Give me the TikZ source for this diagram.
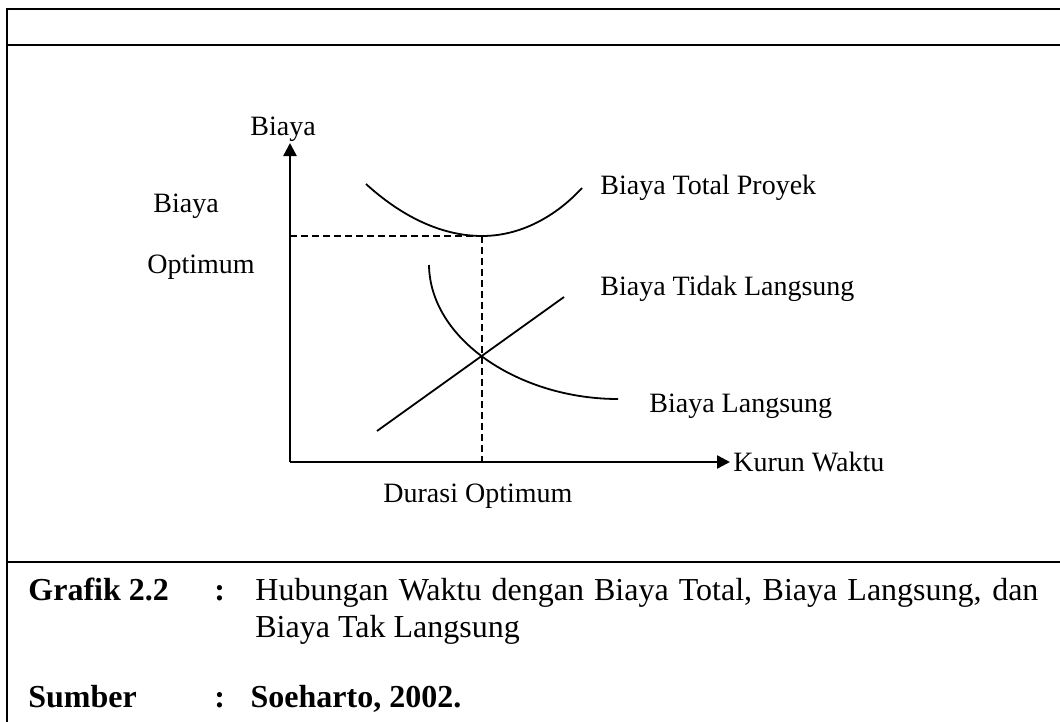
\documentclass[tikz,border=0pt]{standalone}
\usepackage{fontspec}
\setmainfont{Liberation Serif}
\usetikzlibrary{arrows.meta}
\begin{document}
\begin{tikzpicture}[x=0.5pt, y=-0.5pt,
	frameLine/.style={line width=1pt},
	axisLine/.style={line width=1.2pt, -{Triangle[width=6.5pt,length=6.5pt]}},
	costCurve/.style={line width=0.9pt},
	guideLine/.style={line width=0.9pt, dash pattern=on 3.5pt off 2pt},
	graphText/.style={inner sep=0pt, anchor=base west, font=\fontsize{14}{17}\selectfont},
	captionText/.style={inner sep=0pt, anchor=base west, font=\fontsize{16}{19}\selectfont},
	captionBold/.style={captionText, font=\fontsize{16}{19}\selectfont\bfseries}]
	\useasboundingbox (0,0) rectangle (1060,722);

		% frame of the table
		\draw[frameLine] (7,722) -- (7,9) -- (1060,9);
		\draw[frameLine] (7,45.5) -- (1060,45.5);
		\draw[frameLine] (7,562) -- (1060,562);

		\coordinate (origin) at (290,462);
		\coordinate (yTip) at (290,143);
		\coordinate (xTip) at (730,462);

		\coordinate (optCost) at (290,236);
		\coordinate (optPoint) at (482,236);
		\coordinate (optTime) at (482,462);

		\coordinate (totalStart) at (366,184);
		\coordinate (totalEnd) at (582,188);
		\coordinate (directStart) at (429,265);
		\coordinate (directEnd) at (618,399);
		\coordinate (indirectStart) at (377,431);
		\coordinate (indirectEnd) at (564,297);

		\node[graphText](costAxisLabel) at (250,135){Biaya};
		\node[graphText](timeAxisLabel) at (733,471){Kurun Waktu};
		\node[graphText](optCostLabel1) at (153,213){Biaya};
		\node[graphText](optCostLabel2) at (147,273){Optimum};
		\node[graphText](optTimeLabel) at (383,502){Durasi Optimum};
		\node[graphText](totalLabel) at (600,194){Biaya Total Proyek};
		\node[graphText](indirectLabel) at (600,295){Biaya Tidak Langsung};
		\node[graphText](directLabel) at (649,412){Biaya Langsung};

		\draw [axisLine] (origin) -- (yTip);
		\draw [axisLine] (origin) -- (xTip);

		\draw [guideLine] (optCost) -- (optPoint);
		\draw [guideLine] (optPoint) -- (optTime);

		\draw [costCurve] (totalStart) .. controls (400,215) and (440,236) .. (optPoint) .. controls (525,236) and (560,212) .. (totalEnd);
		\draw [costCurve] (directStart) .. controls (430,340) and (520,399) .. (directEnd);
		\draw [costCurve] (indirectStart) -- (indirectEnd);

		% caption
		\node[captionBold](grafikLabel) at (28,600){Grafik 2.2};
		\node[captionBold](grafikColon) at (214,600){:};
		\node[captionText](grafikLine1) at (255,600){\makebox[391.5pt][s]{Hubungan Waktu dengan Biaya Total, Biaya Langsung, dan}};
		\node[captionText](grafikLine2) at (255,637){Biaya Tak Langsung};
		\node[captionBold](sumberLabel) at (28,707){Sumber};
		\node[captionBold](sumberText) at (214,707){:\hspace{0.8em}Soeharto, 2002.};
	\end{tikzpicture}
\end{document}
